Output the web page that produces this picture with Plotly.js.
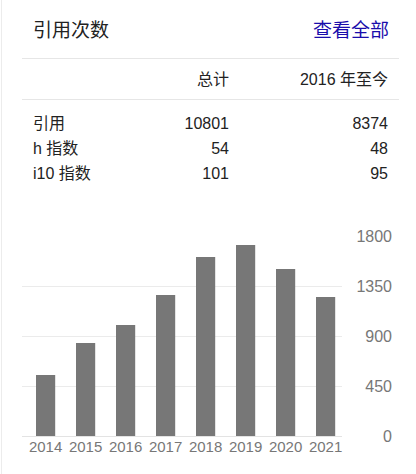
<!DOCTYPE html>
<html>
<head>
<meta charset="utf-8">
<script src="https://cdn.plot.ly/plotly-3.0.1.min.js"></script>
<style>
  body { margin: 0; width: 416px; height: 474px; background: #fff; position: relative; overflow: hidden;
         font-family: "Liberation Sans", Arial, "Noto Sans CJK SC", sans-serif; color: #222; }
  .edge { position: absolute; left: 1px; top: 0; width: 1px; height: 474px; background: #ececec; z-index: 5; }
  .title { position: absolute; left: 33px; top: 18px; font-size: 19px; line-height: 26px; }
  .link { position: absolute; right: 27px; top: 18px; font-size: 19px; line-height: 26px; color: #1a0dab; }
  .rule { position: absolute; left: 22px; width: 377px; height: 1px; background: #e6e6e6; }
  table { position: absolute; left: 33px; border-collapse: collapse; font-size: 16px; }
  td { padding: 0; height: 25px; line-height: 25px; white-space: nowrap; }
  td.c1 { width: 100px; text-align: left; }
  td.c2 { width: 96px; text-align: right; }
  td.c3 { width: 159px; text-align: right; }
  #plot { position: absolute; left: 0; top: 200px; width: 416px; height: 274px; }
</style>
</head>
<body>
<div id="plot"></div>
<div class="edge"></div>
<div class="title">引用次数</div>
<div class="link">查看全部</div>
<div class="rule" style="top:58px"></div>
<table id="head" style="top:67px"></table>
<div class="rule" style="top:99px"></div>
<table id="stats" style="top:111px"></table>
<script>
// Table data
const statHeaders = ["", "总计", "2016 年至今"];
const statNames = ["引用", "h 指数", "i10 指数"];
const statTotal = [10801, 54, 101];
const statSince = [8374, 48, 95];

// Chart data
const years = ["2014", "2015", "2016", "2017", "2018", "2019", "2020", "2021"];
const citations = [549, 837, 999, 1269, 1611, 1719, 1503, 1251];
const yTicks = [0, 450, 900, 1350, 1800];

// Build the table
const head = document.getElementById("head");
head.innerHTML = "<tr>" + statHeaders.map((h, i) => `<td class="c${i + 1}">${h}</td>`).join("") + "</tr>";
const stats = document.getElementById("stats");
let rows = "";
for (let i = 0; i < statNames.length; i++) {
  rows += `<tr><td class="c1">${statNames[i]}</td><td class="c2">${statTotal[i]}</td><td class="c3">${statSince[i]}</td></tr>`;
}
stats.innerHTML = rows;

// Bar chart
const data = [
  {
    x: years,
    y: citations,
    type: "bar",
    width: 0.48,
    marker: { color: "#777777" },
    hoverinfo: "none",
  },
];

const layout = {
  width: 416,
  height: 274,
  margin: { l: 22, r: 24, t: 36, b: 38 },
  paper_bgcolor: "rgba(0,0,0,0)",
  plot_bgcolor: "rgba(0,0,0,0)",
  showlegend: false,
  font: { family: "Liberation Sans, Arial, sans-serif", color: "#777" },
  xaxis: {
    domain: [0, 320 / 370],
    type: "category",
    range: [-0.59, 7.41],
    showgrid: false,
    ticks: "",
    tickfont: { size: 15, color: "#777" },
    showline: false,
    zeroline: false,
  },
  yaxis: {
    range: [0, 1800],
    tickvals: yTicks,
    ticktext: yTicks.map(String),
    anchor: "free",
    position: 1,
    side: "left",
    ticks: "",
    tickfont: { size: 16, color: "#777" },
    showgrid: true,
    gridcolor: "#ebebeb",
    zeroline: true,
    zerolinecolor: "#e3e3e3",
    showline: false,
  },
};

Plotly.newPlot("plot", data, layout, { displayModeBar: false, staticPlot: true });
</script>
</body>
</html>
